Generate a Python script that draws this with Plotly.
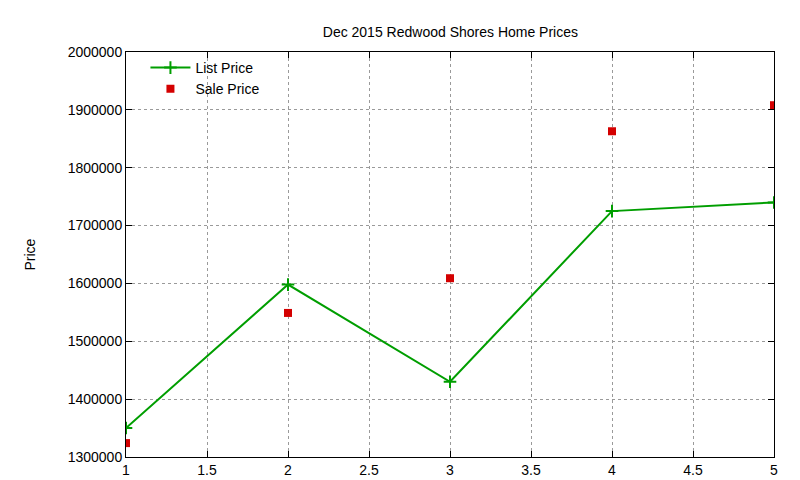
import plotly.graph_objects as go

months = [1, 2, 3, 4, 5]
list_price = [1350000, 1598000, 1430000, 1725000, 1740000]
sale_price = [1324000, 1549000, 1609000, 1863000, 1908000]

fig = go.Figure()

fig.add_trace(go.Scatter(
    x=months, y=list_price, name="List Price", mode="lines+markers",
    line=dict(color="#009e00", width=2),
    marker=dict(symbol="cross-thin", size=9, line=dict(color="#009e00", width=2))))

fig.add_trace(go.Scatter(
    x=months, y=sale_price, name="Sale Price", mode="markers",
    marker=dict(symbol="square", size=8, color="#d40000")))

axis_common = dict(
    showline=True, mirror="ticks", linecolor="black", linewidth=1,
    ticks="inside", ticklen=6, tickcolor="black",
    showgrid=True, gridcolor="#9a9a9a", griddash="dot", gridwidth=1,
    zeroline=False, tickfont=dict(size=14, color="black"))

fig.update_xaxes(range=[1, 5], dtick=0.5, **axis_common)
fig.update_yaxes(range=[1300000, 2000000], dtick=100000, tickformat="d", **axis_common)

fig.add_annotation(text="Price", textangle=-90, xref="paper", yref="paper",
                   x=-0.165, y=0.5, showarrow=False, font=dict(size=14))

fig.update_layout(
    width=800, height=480,
    margin=dict(l=118, r=34, t=44, b=31, autoexpand=False),
    paper_bgcolor="white", plot_bgcolor="white",
    font=dict(family="Liberation Sans, Arial, sans-serif", size=14, color="black"),
    title=dict(text="Dec 2015 Redwood Shores Home Prices", x=0.553, xanchor="center",
               y=0.96, font=dict(size=14)),
    legend=dict(x=0.03, y=1.0, xanchor="left", yanchor="top", bgcolor="rgba(0,0,0,0)",
                font=dict(size=14), itemwidth=40),
)

fig.write_html("out.html")
